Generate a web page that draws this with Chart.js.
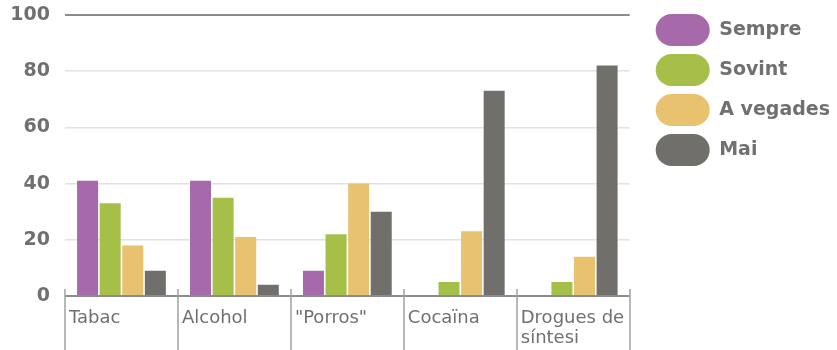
<!DOCTYPE html>
<html>
<head>
<meta charset="utf-8">
<script src="https://cdn.jsdelivr.net/npm/chart.js@4"></script>
<style>
html, body { margin: 0; padding: 0; background: #fff; }
#wrap { width: 837px; height: 350px; }
</style>
</head>
<body>
<div id="wrap"><canvas id="drugsChart"></canvas></div>
<script>
// consum de drogues (%)
var categories = ['Tabac', 'Alcohol', '"Porros"', 'Cocaïna', ['Drogues de', 'síntesi']];
var sempre = [41, 41, 9, 0, 0];
var sovint = [33, 35, 22, 5, 5];
var aVegades = [18, 21, 40, 23, 14];
var mai = [9, 4, 30, 73, 82];
var yTicks = [0, 20, 40, 60, 80, 100];

var grey = '#707070';

// vertical separators between categories + left aligned category labels
var categoryDividers = {
    id: 'categoryDividers',
    afterDraw: function(chart) {
        var ctx = chart.ctx;
        var x = chart.scales.x;
        var area = chart.chartArea;
        var n = categories.length;
        var step = (x.right - x.left) / n;
        ctx.save();
        ctx.strokeStyle = '#a0a0a0';
        ctx.lineWidth = 1.5;
        for (var i = 0; i <= n; i++) {
            var px = Math.round(x.left + i * step);
            ctx.beginPath();
            ctx.moveTo(px, area.bottom - 7);
            ctx.lineTo(px, chart.height);
            ctx.stroke();
        }
        ctx.fillStyle = grey;
        ctx.font = '18px "DejaVu Sans"';
        ctx.textAlign = 'left';
        ctx.textBaseline = 'alphabetic';
        categories.forEach(function(lab, i) {
            [].concat(lab).forEach(function(line, j) {
                ctx.fillText(line, x.left + i * step + 4, area.bottom + 27 + j * 20);
            });
        });
        ctx.restore();
    }
};

var ctx = document.getElementById('drugsChart').getContext('2d');
var drugsChart = new Chart(ctx, {
    type: 'bar',
    data: {
        labels: categories,
        datasets: [
            { label: 'Sempre', data: sempre, backgroundColor: '#a66aaa' },
            { label: 'Sovint', data: sovint, backgroundColor: '#a5bf48' },
            { label: 'A vegades', data: aVegades, backgroundColor: '#e9c270' },
            { label: 'Mai', data: mai, backgroundColor: '#706f6c' }
        ]
    },
    options: {
        responsive: true,
        maintainAspectRatio: false,
        animation: false,
        layout: { padding: { left: 12, right: -3, top: 6, bottom: 54 } },
        datasets: { bar: { categoryPercentage: 0.8, barPercentage: 0.93 } },
        scales: {
            x: { display: false },
            y: {
                min: 0,
                max: 100,
                afterBuildTicks: function(scale) {
                    scale.ticks = yTicks.map(function(v) { return { value: v }; });
                },
                afterFit: function(scale) {
                    scale.width = 53;
                    scale.paddingTop = 15;
                },
                border: { display: false },
                grid: {
                    drawTicks: false,
                    color: function(c) { return (c.tick.value === 0 || c.tick.value === 100) ? '#8c8c8c' : '#e2e2e2'; },
                    lineWidth: function(c) { return (c.tick.value === 0 || c.tick.value === 100) ? 2 : 1.5; }
                },
                ticks: {
                    padding: 15,
                    color: grey,
                    font: { family: '"DejaVu Sans"', size: 19, weight: 'bold' }
                }
            },
            // empty axis that only keeps a gap between the plot and the legend
            gap: {
                type: 'linear',
                position: 'right',
                ticks: { display: false },
                grid: { display: false },
                border: { display: false },
                afterFit: function(scale) { scale.width = 18; }
            }
        },
        plugins: {
            tooltip: { enabled: false },
            legend: {
                position: 'right',
                align: 'start',
                maxWidth: 240,
                labels: {
                    boxWidth: 54,
                    boxHeight: 32,
                    useBorderRadius: true,
                    borderRadius: 16,
                    padding: 8,
                    color: grey,
                    font: { family: '"DejaVu Sans"', size: 19, weight: 'bold' }
                }
            }
        }
    },
    plugins: [categoryDividers]
});
</script>
</body>
</html>
